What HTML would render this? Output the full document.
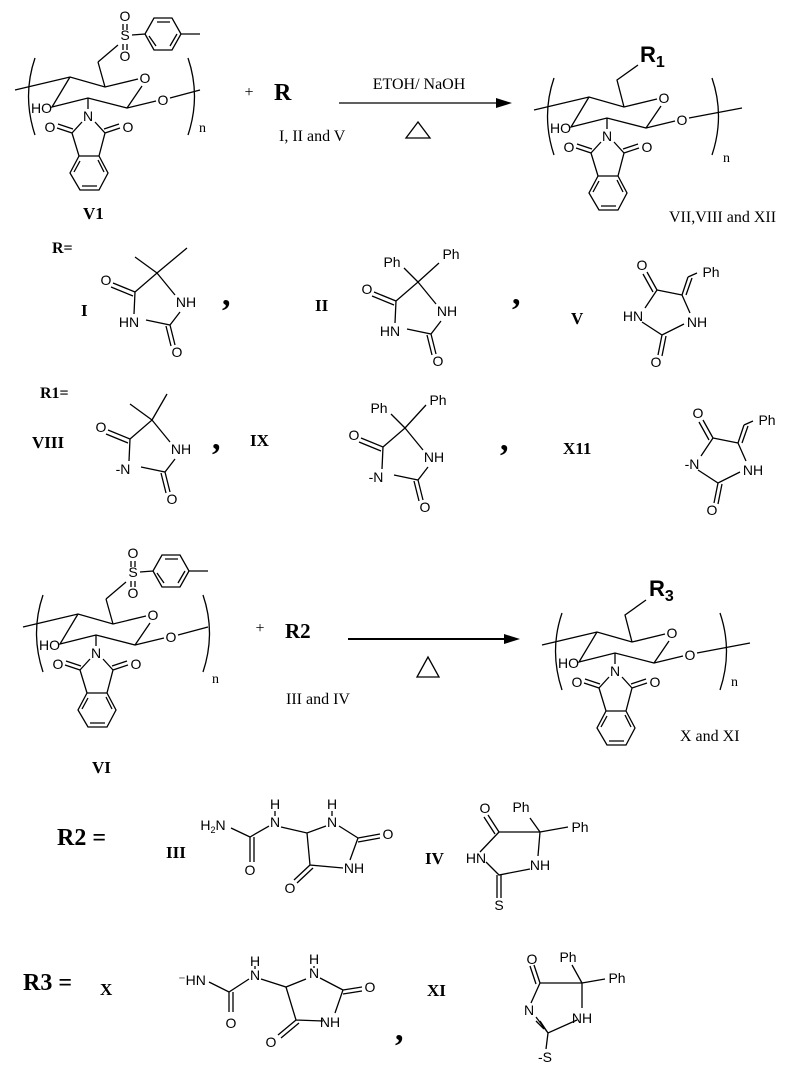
<!DOCTYPE html>
<html><head><meta charset="utf-8"><style>
html,body{margin:0;padding:0;background:#fff;}
svg{display:block;}
.b{stroke:#000;stroke-width:1.3;fill:none;}
.a{font-family:"Liberation Sans",sans-serif;font-size:14px;text-anchor:middle;fill:#000;}
.s{font-family:"Liberation Serif",serif;fill:#000;}
.lb{font-family:"Liberation Serif",serif;font-weight:bold;font-size:17px;fill:#000;}
</style></head><body>
<svg width="805" height="1073" viewBox="0 0 805 1073" xmlns="http://www.w3.org/2000/svg">

<!-- ===== V1 ===== -->
<g>
<path class="b" d="M15,90 L70,77 L105,87 L138,79 M142,86 L127,108 L88,98 L52,107 L70,77 M127,108 L156,101 M170,98 L200,90 M88,98 L88,109 M82,122 L72,133 L79,156 L99,156 L105,133 L95,122 M72,133 L57,128 M73,129 L58,124 M105,133 L120,128 M104,129 L119,124 M99,156 L108,173 L99,190 L80,190 L70,173 L79,156 M98,160 L104,172 M97,186 L82,186 M74,172 L80,161 M105,87 L98,62 M35,58 Q22,96 35,135 M188,58 Q201,96 188,135"/>
<text class="a" x="145" y="83">O</text><text class="a" x="163" y="105">O</text>
<text class="a" x="52" y="113" style="text-anchor:end">HO</text>
<text class="a" x="88" y="121">N</text><text class="a" x="50" y="132">O</text><text class="a" x="128" y="132">O</text>
<text class="s" x="199" y="132" font-size="14">n</text>
<path class="b" d="M98,62 L118,45 M132,35 L145,34 L154,18 L172,18 L181,34 L172,50 L154,50 L145,34 M181,34 L200,34 M157,22 L170,22 M177,34 L170,46 M156,46 L149,36 M123,24 L123,30 M127,24 L127,30 M123,44 L123,50 M127,44 L127,50"/>
<text class="a" x="125" y="40">S</text><text class="a" x="125" y="21">O</text><text class="a" x="125" y="61">O</text>
<text class="lb" x="83" y="219">V1</text>
</g>

<!-- reaction 1 -->
<text class="s" x="249" y="97" font-size="16" text-anchor="middle">+</text>
<text class="s" x="274" y="100" font-size="24" font-weight="bold">R</text>
<line class="b" x1="339" y1="103" x2="498" y2="103"/>
<polygon points="512,103 496,98 496,108" fill="#000"/>
<text class="s" x="419" y="89" font-size="16" text-anchor="middle">ETOH/ NaOH</text>
<polygon class="b" points="418,122 406,138 430,138"/>
<text class="s" x="279" y="141" font-size="16">I, II and V</text>

<!-- ===== Product 1 ===== -->
<g transform="translate(519,20)">
<path class="b" d="M15,90 L70,77 L105,87 L138,79 M142,86 L127,108 L88,98 L52,107 L70,77 M127,108 L156,101 M170,98 L223,88 M88,98 L88,109 M82,122 L72,133 L79,156 L99,156 L105,133 L95,122 M72,133 L57,128 M73,129 L58,124 M105,133 L120,128 M104,129 L119,124 M99,156 L108,173 L99,190 L80,190 L70,173 L79,156 M98,160 L104,172 M97,186 L82,186 M74,172 L80,161 M105,87 L98,60 L119,45 M35,58 Q22,96 35,135 M193,58 Q206,96 193,135"/>
<text class="a" x="145" y="83">O</text><text class="a" x="163" y="105">O</text>
<text class="a" x="52" y="113" style="text-anchor:end">HO</text>
<text class="a" x="88" y="121">N</text><text class="a" x="50" y="132">O</text><text class="a" x="128" y="132">O</text>
<text class="s" x="204" y="142" font-size="14">n</text>
<text x="121" y="42" font-family="Liberation Sans,sans-serif" font-size="22" font-weight="bold">R<tspan font-size="16" dy="5">1</tspan></text>
</g>
<text class="s" x="669" y="222" font-size="16">VII,VIII and XII</text>

<!-- R= row -->
<text class="s" x="52" y="253" font-size="16" font-weight="bold">R=</text>
<text class="lb" x="81" y="316">I</text>
<text class="lb" x="315" y="311">II</text>
<text class="lb" x="571" y="324">V</text>
<text class="s" x="222" y="305" font-size="34" font-weight="bold">,</text>
<text class="s" x="512" y="304" font-size="34" font-weight="bold">,</text>

<!-- I -->
<g>
<path class="b" d="M135,292 L157,273 L175,295 M180,312 L170,325 L146,320 M134,314 L135,292 M135,292 L113,283 M133,296 L111,287 M170,325 L175,345 M166,326 L171,346 M157,273 L135,257 M157,273 L187,248"/>
<text class="a" x="106" y="285">O</text><text class="a" x="186" y="307">NH</text><text class="a" x="129" y="327">HN</text><text class="a" x="177" y="357">O</text>
</g>
<!-- II -->
<g transform="translate(261,9)">
<path class="b" d="M135,292 L157,273 L175,295 M180,312 L170,325 L146,320 M134,314 L135,292 M135,292 L113,283 M133,296 L111,287 M170,325 L175,345 M166,326 L171,346 M157,273 L143,259 M157,273 L178,254"/>
<text class="a" x="106" y="285">O</text><text class="a" x="186" y="307">NH</text><text class="a" x="129" y="327">HN</text><text class="a" x="177" y="357">O</text>
<text class="a" x="131" y="258">Ph</text><text class="a" x="190" y="250">Ph</text>
</g>
<!-- V -->
<g>
<path class="b" d="M657,290 L682,295 M657,290 L647,272 M653,292 L643,274 M645,308 L657,290 M642,322 L662,335 L684,324 M690,313 L682,295 M662,335 L658,355 M666,336 L662,356 M682,295 L688,277 M686,295 L692,278 M688,277 L697,273"/>
<text class="a" x="642" y="270">O</text><text class="a" x="633" y="321">HN</text><text class="a" x="697" y="327">NH</text><text class="a" x="656" y="367">O</text>
<text class="a" x="711" y="277">Ph</text>
</g>

<!-- R1= row -->
<text class="s" x="40" y="398" font-size="16" font-weight="bold">R1=</text>
<text class="lb" x="32" y="448">VIII</text>
<text class="lb" x="250" y="446">IX</text>
<text class="lb" x="563" y="454">X11</text>
<text class="s" x="212" y="449" font-size="34" font-weight="bold">,</text>
<text class="s" x="500" y="450" font-size="34" font-weight="bold">,</text>
<!-- VIII -->
<g transform="translate(-5,147)">
<path class="b" d="M135,292 L157,273 L175,295 M180,312 L170,325 L146,320 M134,314 L135,292 M135,292 L113,283 M133,296 L111,287 M170,325 L175,345 M166,326 L171,346 M157,273 L135,257 M157,273 L172,247"/>
<text class="a" x="106" y="285">O</text><text class="a" x="186" y="307">NH</text><text class="a" x="128" y="327">-N</text><text class="a" x="177" y="357">O</text>
</g>
<!-- IX -->
<g transform="translate(248,155)">
<path class="b" d="M135,292 L157,273 L175,295 M180,312 L170,325 L146,320 M134,314 L135,292 M135,292 L113,283 M133,296 L111,287 M170,325 L175,345 M166,326 L171,346 M157,273 L143,259 M157,273 L178,250"/>
<text class="a" x="106" y="285">O</text><text class="a" x="186" y="307">NH</text><text class="a" x="128" y="327">-N</text><text class="a" x="177" y="357">O</text>
<text class="a" x="131" y="258">Ph</text><text class="a" x="190" y="250">Ph</text>
</g>
<!-- X11 -->
<g transform="translate(56,148)">
<path class="b" d="M657,290 L682,295 M657,290 L647,272 M653,292 L643,274 M645,308 L657,290 M642,322 L662,335 L684,324 M690,313 L682,295 M662,335 L658,355 M666,336 L662,356 M682,295 L688,277 M686,295 L692,278 M688,277 L697,273"/>
<text class="a" x="642" y="270">O</text><text class="a" x="636" y="321">-N</text><text class="a" x="697" y="327">NH</text><text class="a" x="656" y="367">O</text>
<text class="a" x="711" y="277">Ph</text>
</g>

<!-- ===== VI ===== -->
<g transform="translate(8,537)">
<path class="b" d="M15,90 L70,77 L105,87 L138,79 M142,86 L127,108 L88,98 L52,107 L70,77 M127,108 L156,101 M170,98 L200,90 M88,98 L88,109 M82,122 L72,133 L79,156 L99,156 L105,133 L95,122 M72,133 L57,128 M73,129 L58,124 M105,133 L120,128 M104,129 L119,124 M99,156 L108,173 L99,190 L80,190 L70,173 L79,156 M98,160 L104,172 M97,186 L82,186 M74,172 L80,161 M105,87 L98,62 M35,58 Q22,96 35,135 M195,58 Q208,96 195,135"/>
<text class="a" x="145" y="83">O</text><text class="a" x="163" y="105">O</text>
<text class="a" x="52" y="113" style="text-anchor:end">HO</text>
<text class="a" x="88" y="121">N</text><text class="a" x="50" y="132">O</text><text class="a" x="128" y="132">O</text>
<text class="s" x="204" y="146" font-size="14">n</text>
<path class="b" d="M98,62 L118,45 M132,35 L145,34 L154,18 L172,18 L181,34 L172,50 L154,50 L145,34 M181,34 L200,34 M157,22 L170,22 M177,34 L170,46 M156,46 L149,36 M123,24 L123,30 M127,24 L127,30 M123,44 L123,50 M127,44 L127,50"/>
<text class="a" x="125" y="40">S</text><text class="a" x="125" y="21">O</text><text class="a" x="125" y="61">O</text>
</g>
<text class="lb" x="92" y="773">VI</text>

<!-- reaction 2 -->
<text class="s" x="260" y="633" font-size="16" text-anchor="middle">+</text>
<text class="s" x="285" y="638" font-size="21" font-weight="bold">R2</text>
<line class="b" x1="348" y1="639" x2="506" y2="639" style="stroke-width:2"/>
<polygon points="520,639 504,634 504,644" fill="#000"/>
<polygon class="b" points="428,657 417,677 439,677"/>
<text class="s" x="286" y="704" font-size="16">III and IV</text>

<!-- ===== Product 2 ===== -->
<g transform="translate(527,555)">
<path class="b" d="M15,90 L70,77 L105,87 L138,79 M142,86 L127,108 L88,98 L52,107 L70,77 M127,108 L156,101 M170,98 L223,88 M88,98 L88,109 M82,122 L72,133 L79,156 L99,156 L105,133 L95,122 M72,133 L57,128 M73,129 L58,124 M105,133 L120,128 M104,129 L119,124 M99,156 L108,173 L99,190 L80,190 L70,173 L79,156 M98,160 L104,172 M97,186 L82,186 M74,172 L80,161 M105,87 L98,60 L119,45 M35,58 Q22,96 35,135 M193,58 Q206,96 193,135"/>
<text class="a" x="145" y="83">O</text><text class="a" x="163" y="105">O</text>
<text class="a" x="52" y="113" style="text-anchor:end">HO</text>
<text class="a" x="88" y="121">N</text><text class="a" x="50" y="132">O</text><text class="a" x="128" y="132">O</text>
<text class="s" x="204" y="131" font-size="14">n</text>
<text x="122" y="41" font-family="Liberation Sans,sans-serif" font-size="22" font-weight="bold">R<tspan font-size="16" dy="5">3</tspan></text>
</g>
<text class="s" x="680" y="741" font-size="16">X and XI</text>

<!-- R2 = -->
<text class="s" x="57" y="845" font-size="24" font-weight="bold">R2 =</text>
<text class="lb" x="166" y="858">III</text>
<text class="lb" x="425" y="864">IV</text>
<!-- III -->
<g>
<path class="b" d="M231,828 L250,837 L269,826 M281,827 L307,833 L326,826 M339,826 L358,838 L350,860 M343,868 L310,865 L307,833 M358,838 L380,834 M358,842 L380,838 M250,837 L250,862 M254,837 L254,862 M310,865 L294,880 M313,868 L297,883 M275,816 L275,811 M332,816 L332,811"/>
<text class="a" x="213" y="830">H<tspan font-size="9" dy="3">2</tspan><tspan dy="-3">N</tspan></text>
<text class="a" x="275" y="827">N</text><text class="a" x="275" y="809">H</text>
<text class="a" x="332" y="827">N</text><text class="a" x="332" y="809">H</text>
<text class="a" x="388" y="839">O</text><text class="a" x="354" y="873">NH</text>
<text class="a" x="250" y="875">O</text><text class="a" x="290" y="893">O</text>
</g>
<!-- IV -->
<g>
<path class="b" d="M499,832 L540,832 M499,832 L488,815 M495,834 L484,817 M540,832 L530,818 M540,832 L568,827 M540,832 L538,856 M530,869 L499,875 L486,862 M480,852 L499,832 M497,875 L497,898 M501,875 L501,898"/>
<text class="a" x="485" y="813">O</text><text class="a" x="521" y="812">Ph</text><text class="a" x="580" y="832">Ph</text>
<text class="a" x="476" y="863">HN</text><text class="a" x="540" y="870">NH</text><text class="a" x="499" y="910">S</text>
</g>

<!-- R3 = -->
<text class="s" x="23" y="990" font-size="24" font-weight="bold">R3 =</text>
<text class="lb" x="100" y="995">X</text>
<text class="lb" x="427" y="996">XI</text>
<text class="s" x="395" y="1040" font-size="34" font-weight="bold">,</text>
<!-- X -->
<g>
<path class="b" d="M209,982 L229,992 L249,979 M261,979 L286,987 L306,979 M320,978 L343,990 L335,1013 M323,1021 L296,1020 L286,987 M343,990 L362,987 M343,994 L362,991 M229,992 L229,1012 M233,992 L233,1012 M296,1020 L278,1035 M299,1023 L281,1038 M255,969 L255,966 M314,968 L314,966"/>
<text class="a" x="192" y="985">⁻HN</text>
<text class="a" x="255" y="980">N</text><text class="a" x="255" y="966">H</text>
<text class="a" x="314" y="978">N</text><text class="a" x="314" y="964">H</text>
<text class="a" x="370" y="992">O</text><text class="a" x="330" y="1027">NH</text>
<text class="a" x="231" y="1028">O</text><text class="a" x="271" y="1047">O</text>
</g>
<!-- XI -->
<g>
<path class="b" d="M540,983 L582,983 M540,983 L534,965 M536,984 L530,966 M582,983 L572,965 M582,983 L605,979 M582,983 L582,1008 M577,1020 L548,1033 L536,1017 M544,1029 L536,1021 M548,1033 L540,1021 M531,1003 L540,983 M548,1033 L546,1049"/>
<text class="a" x="532" y="964">O</text><text class="a" x="568" y="962">Ph</text><text class="a" x="617" y="983">Ph</text>
<text class="a" x="529" y="1015">N</text><text class="a" x="582" y="1023">NH</text><text class="a" x="545" y="1062">-S</text>
</g>
</svg>
</body></html>
